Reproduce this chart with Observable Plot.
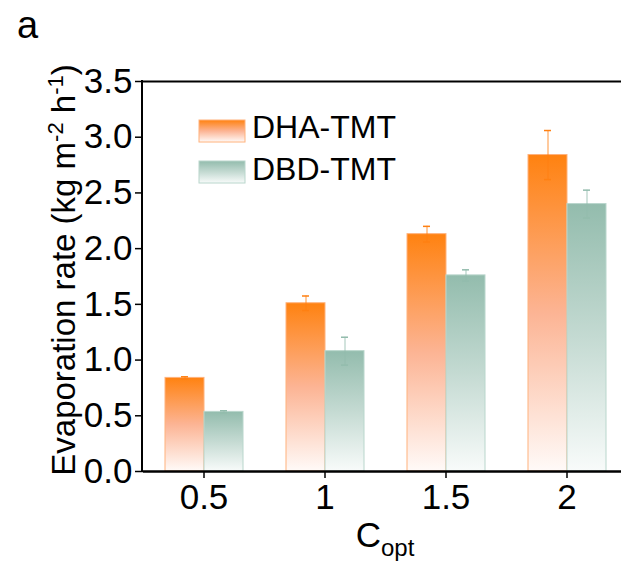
<!DOCTYPE html>
<html><head><meta charset="utf-8">
<script src="https://cdn.jsdelivr.net/npm/d3@7"></script>
<script src="https://cdn.jsdelivr.net/npm/@observablehq/plot@0.6"></script>
<style>html,body{margin:0;padding:0;overflow:hidden;background:#fff;}</style>
</head><body><div id="chart"></div>
<script>
const categories = ["0.5", "1", "1.5", "2"];
const seriesNames = ["DHA-TMT", "DBD-TMT"];
const dhaValues = [0.84, 1.51, 2.13, 2.84];
const dhaErrors = [0.01, 0.065, 0.07, 0.22];
const dbdValues = [0.535, 1.08, 1.76, 2.40];
const dbdErrors = [0.01, 0.125, 0.05, 0.125];
const yTicks = [0, 0.5, 1, 1.5, 2, 2.5, 3, 3.5];

const rows = categories.flatMap((c, i) => [
  {c, s: seriesNames[0], v: dhaValues[i], e: dhaErrors[i]},
  {c, s: seriesNames[1], v: dbdValues[i], e: dbdErrors[i]}
]);
const dhaRows = rows.filter(d => d.s === seriesNames[0]);
const dbdRows = rows.filter(d => d.s === seriesNames[1]);

const orange = "#ff8012", orangeLine = "#ffb27c";
const teal = "#93bcad", tealLine = "#b9d6cc";

function seriesMarks(data, grad, edge, main) {
  return [
    Plot.barY(data, {fx: "c", x: "s", y: "v", fill: `url(#${grad})`, stroke: edge, strokeWidth: 1}),
    Plot.ruleX(data, {fx: "c", x: "s", y1: d => d.v - d.e, y2: d => d.v + d.e, stroke: main, strokeOpacity: 0.55, strokeWidth: 1.5}),
    Plot.tickY(data, {fx: "c", x: "s", y: d => d.v + d.e, stroke: main, strokeWidth: 1.5, insetLeft: 16, insetRight: 16}),
    Plot.tickY(data, {fx: "c", x: "s", y: d => d.v - d.e, stroke: main, strokeWidth: 1.5, insetLeft: 16, insetRight: 16})
  ];
}

const plot = Plot.plot({
  width: 628, height: 561,
  marginLeft: 142, marginRight: 0, marginTop: 81, marginBottom: 90,
  style: {fontFamily: "'Liberation Sans', Arial, sans-serif", fontSize: "35px", color: "#000", background: "#fff", overflow: "visible", maxWidth: "none"},
  fx: {domain: categories, padding: 0, label: null},
  x: {domain: seriesNames, paddingInner: 0, paddingOuter: 0.52, axis: null},
  y: {domain: [0, 3.5], axis: null},
  marks: [
    ...seriesMarks(dhaRows, "gradDHA", orangeLine, orange),
    ...seriesMarks(dbdRows, "gradDBD", tealLine, teal),
    Plot.ruleY([0], {stroke: "#000", strokeWidth: 2.5}),
    Plot.ruleY([3.5], {stroke: "#000", strokeWidth: 2}),
    Plot.axisY({ticks: yTicks, tickSize: 8, tickPadding: 3, tickFormat: d => d.toFixed(1), strokeWidth: 1.5, label: null}),
    Plot.axisFx({anchor: "bottom", tickSize: 7, tickPadding: 6, strokeWidth: 1.5, label: null})
  ]
});

const svg = d3.select(plot);
const defs = svg.insert("defs", ":first-child");
function grad(id, stops) {
  const g = defs.append("linearGradient").attr("id", id).attr("x1", 0).attr("y1", 0).attr("x2", 0).attr("y2", 1);
  stops.forEach(([o, c]) => g.append("stop").attr("offset", o).attr("stop-color", c));
}
grad("gradDHA", [[0, "#ff8210"], [0.5, "#fcb494"], [1, "#fffaf8"]]);
grad("gradDBD", [[0, "#93bcad"], [0.5, "#c4dad2"], [1, "#f8fbfa"]]);

// left axis line, placed with the library's y scale
const yScale = plot.scale("y");
const yS = v => yScale.apply(v);
svg.append("line").attr("x1", 142).attr("x2", 142)
  .attr("y1", yS(0) + 1).attr("y2", yS(3.5) - 1)
  .attr("stroke", "#000").attr("stroke-width", 2);

const font = "'Liberation Sans', Arial, sans-serif";
svg.append("text").attr("x", 17).attr("y", 38).attr("text-anchor", "start").attr("font-size", 38).attr("font-family", font).text("a");

const yl = svg.append("text").attr("transform", "translate(75,270) rotate(-90)")
  .attr("text-anchor", "middle").attr("font-size", 33).attr("font-family", font);
yl.append("tspan").text("Evaporation rate (kg m");
yl.append("tspan").attr("dy", -12).attr("font-size", 22).text("-2");
yl.append("tspan").attr("dy", 12).text(" h");
yl.append("tspan").attr("dy", -12).attr("font-size", 22).text("-1");
yl.append("tspan").attr("dy", 12).text(")");

const xl = svg.append("text").attr("x", 385).attr("y", 547).attr("text-anchor", "middle")
  .attr("font-size", 35).attr("font-family", font);
xl.append("tspan").text("C");
xl.append("tspan").attr("dy", 9).attr("font-size", 24).text("opt");

const legend = svg.append("g");
[["DHA-TMT", "gradDHA", orangeLine, 120, 138], ["DBD-TMT", "gradDBD", tealLine, 161, 180]].forEach(([t, g, e, ry, ty]) => {
  legend.append("rect").attr("x", 199).attr("y", ry).attr("width", 46).attr("height", 22)
    .attr("fill", `url(#${g})`).attr("stroke", e).attr("stroke-width", 1);
  legend.append("text").attr("x", 252).attr("y", ty).attr("text-anchor", "start").attr("font-size", 32).attr("font-family", font).text(t);
});

document.getElementById("chart").appendChild(plot);
</script>
</body></html>
